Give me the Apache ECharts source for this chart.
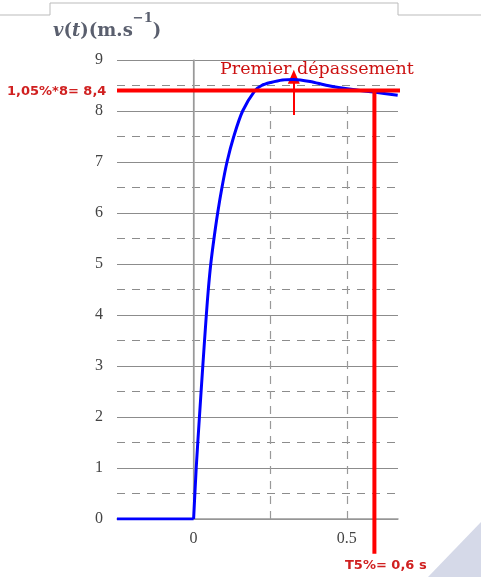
<!DOCTYPE html>
<html><head><meta charset="utf-8">
<script src="https://cdn.jsdelivr.net/npm/echarts@6/dist/echarts.min.js"></script>
<style>html,body{margin:0;padding:0;background:#fff}#c{width:481px;height:577px}</style>
</head><body><div id="c"></div>
<script>
// time (s) and speed v(t) (m/s)
var flatT = [-0.25, 0];
var flatV = [0, 0];
var riseT = [0, 0.0085, 0.019, 0.030, 0.0415, 0.048, 0.056, 0.0665, 0.0785, 0.0925, 0.109, 0.131, 0.160, 0.200, 0.222, 0.252, 0.29, 0.327, 0.38, 0.437, 0.52, 0.588, 0.666];
var riseV = [0, 1, 2, 3, 4, 4.5, 5, 5.5, 6, 6.5, 7, 7.5, 8, 8.4, 8.5, 8.56, 8.61, 8.62, 8.58, 8.5, 8.42, 8.37, 8.31];
var xTickLabels = { '0': '0', '0.5': '0.5' };
var yTickLabels = ['0','1','2','3','4','5','6','7','8','9'];
var overshootLevel = 8.4;   // 1,05 * 8
var settleTime = 0.59;      // T5%
var peakTime = 0.327;
var peakValue = 8.62;

function pairs(a, b) { return a.map(function (t, i) { return [t, b[i]]; }); }
var serif = '"Liberation Serif","DejaVu Serif",serif';
var sans = '"DejaVu Sans","Liberation Sans",sans-serif';
var chart = echarts.init(document.getElementById('c'));
chart.setOption({
  animation: false,
  grid: { left: 117, right: 83, top: 60, bottom: 58 },
  xAxis: {
    type: 'value', min: -0.25, max: 0.667, interval: 0.25,
    axisLine: { show: true, lineStyle: { color: '#999', width: 1.5 } },
    axisTick: { show: false },
    splitLine: { show: false },
    axisLabel: { margin: 12, color: '#444', fontFamily: serif, fontSize: 16, showMaxLabel: false,
      formatter: function (v) { var k = String(Math.round(v * 100) / 100); return xTickLabels[k] || ''; } }
  },
  yAxis: {
    type: 'value', min: 0, max: 9, interval: 1,
    axisLine: { show: true, lineStyle: { color: '#aaa', width: 1.5 } },
    axisTick: { show: false },
    axisLabel: { margin: 14, color: '#444', fontFamily: serif, fontSize: 16,
      formatter: function (v) { return yTickLabels[Math.round(v)]; } },
    splitLine: { show: true, lineStyle: { color: '#8c8c8c', width: 1.2 } },
    minorTick: { show: false, splitNumber: 2 },
    minorSplitLine: { show: true, lineStyle: { color: '#8c8c8c', width: 1.2, type: [8, 7] } }
  },
  series: [
    {
      type: 'line', data: [], silent: true,
      markLine: {
        silent: true, symbol: ['none', 'none'], label: { show: false },
        data: [
          [{ coord: [0, 0], lineStyle: { color: '#999', width: 1.2, type: 'solid' } }, { coord: [0, 9] }],
          [{ coord: [0.25, 0], lineStyle: { color: '#999', width: 1.2, type: [8, 7] } }, { coord: [0.25, 8.2] }],
          [{ coord: [0.5, 0], lineStyle: { color: '#999', width: 1.2, type: [8, 7] } }, { coord: [0.5, 8.2] }]
        ]
      }
    },
    {
      type: 'line', data: pairs(flatT, flatV), showSymbol: false,
      lineStyle: { color: '#0000ff', width: 3 }, z: 5
    },
    {
      type: 'line', data: pairs(riseT, riseV), showSymbol: false, smooth: 0.3,
      lineStyle: { color: '#0000ff', width: 3 }, z: 5
    },
    {
      type: 'line', data: [[-0.25, overshootLevel], [1.0, overshootLevel]], clip: false, showSymbol: false,
      lineStyle: { color: '#ff0000', width: 4 }, z: 6
    },
    {
      type: 'line', data: [[settleTime, overshootLevel], [settleTime, -0.68]], clip: false, showSymbol: false,
      lineStyle: { color: '#ff0000', width: 4 }, z: 6
    },
    {
      type: 'line', data: [], silent: true, z: 7,
      markLine: {
        silent: true, symbol: ['none', 'triangle'], symbolSize: [12, 14], label: { show: false },
        lineStyle: { color: '#ff0000', width: 2, type: 'solid' },
        data: [[{ coord: [peakTime, 7.92] }, { coord: [peakTime, peakValue + 0.05] }]]
      }
    }
  ],
  graphic: [
    { type: 'polyline', silent: true, shape: { points: [[0, 15], [50, 15], [50, 3], [398, 3], [398, 15], [481, 15]] },
      style: { stroke: '#bbb', lineWidth: 1, fill: null } },
    { type: 'polygon', silent: true, shape: { points: [[428, 577], [481, 522], [481, 577]] },
      style: { fill: '#d5d9e8' } },
    { type: 'text', left: 53, top: 12, silent: true,
      style: { text: '{i|v}{n|(}{i|t}{n|)(m.s}{s|\u22121}{n|)}', rich: {
        i: { fontFamily: '"DejaVu Serif",serif', fontStyle: 'italic', fontWeight: 'bold', fontSize: 18, fill: '#5a5f6e', verticalAlign: 'bottom', lineHeight: 28 },
        n: { fontFamily: '"DejaVu Serif",serif', fontWeight: 'bold', fontSize: 18, fill: '#5a5f6e', verticalAlign: 'bottom', lineHeight: 28 },
        s: { fontFamily: '"DejaVu Serif",serif', fontWeight: 'bold', fontSize: 13, fill: '#5a5f6e', verticalAlign: 'top', lineHeight: 28 } } } },
    { type: 'text', left: 220, top: 60, silent: true,
      style: { text: 'Premier dépassement', font: '17.5px "DejaVu Serif",serif', fill: '#cc1111' } },
    { type: 'text', left: 7, top: 85, silent: true,
      style: { text: '1,05%*8= 8,4', font: 'bold 13px ' + sans, fill: '#d02020' } },
    { type: 'text', left: 345, top: 559, silent: true,
      style: { text: 'T5%= 0,6 s', font: 'bold 13px ' + sans, fill: '#d02020' } }
  ]
});
</script></body></html>
